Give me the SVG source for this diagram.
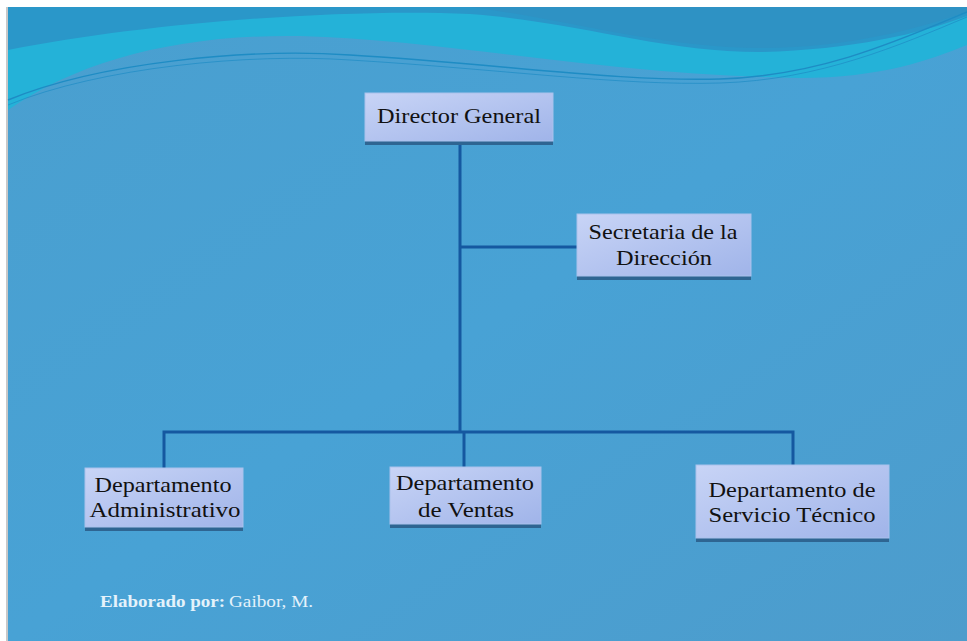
<svg xmlns="http://www.w3.org/2000/svg" width="967" height="641" viewBox="0 0 967 641">
<defs>
<linearGradient id="bg" x1="0" y1="0" x2="1" y2="1">
<stop offset="0" stop-color="#4a9fcf"/>
<stop offset="0.5" stop-color="#48a2d5"/>
<stop offset="1" stop-color="#4d9ccc"/>
</linearGradient>
<linearGradient id="box" x1="0" y1="0" x2="1" y2="1">
<stop offset="0" stop-color="#c8d4f6"/>
<stop offset="1" stop-color="#a0b4e9"/>
</linearGradient>
</defs>
<style>
.box{fill:url(#box);stroke:#a9c2ec;stroke-width:1}
.sh{fill:#2e6592}
.t{font-family:'Liberation Serif','Times New Roman',serif;font-size:22px;fill:#111;text-anchor:middle}
.c{fill:none;stroke:#1558a0;stroke-width:3}
.f{font-family:'Liberation Serif','Times New Roman',serif;font-size:16px;fill:#e4f2fb}
.w{fill:none;stroke:#1e8cc4}
</style>
<rect x="0" y="0" width="967" height="641" fill="#ffffff"/>
<rect x="6" y="7" width="2" height="634" fill="#c8c8c8"/>
<rect x="8" y="7" width="959" height="634" fill="url(#bg)"/>
<path d="M8,7 H967 V45 C930,60 880,78 800,78 C600,75 450,40 300,36 C180,34 80,60 8,110 Z" fill="#24b2d8"/>
<path d="M8,7 H967 V16 C920,34 850,50 760,52 C660,52 580,22 470,14 C350,8 150,22 8,50 Z" fill="#2a97c9"/>
<path d="M470,7 C560,18 660,48 760,48 C850,48 920,28 967,12 V7 Z" fill="#2e92c4"/>
<path class="w" stroke-width="1.4" d="M8,100 C100,62 250,48 350,55 C500,64 620,82 720,79 C820,76 900,40 967,12"/>
<path class="w" stroke-width="1" opacity="0.7" d="M8,105 C100,67 250,53 350,60 C500,69 620,86 720,83 C820,80 900,45 967,17"/>
<g id="connectors">
<path class="c" d="M460,145 V432"/>
<path class="c" d="M460,247 H577"/>
<path class="c" d="M164,468 V432 H793 V465"/>
<path class="c" d="M464,432 V467"/>
</g>
<g id="director">
<rect class="sh" x="365" y="139" width="188" height="6"/>
<rect class="box" x="365" y="93" width="188" height="48"/>
<text class="t" x="459" y="123" textLength="164" lengthAdjust="spacingAndGlyphs">Director General</text>
</g>
<g id="secretaria">
<rect class="sh" x="577" y="274" width="174" height="6"/>
<rect class="box" x="577" y="214" width="174" height="62"/>
<text class="t" x="663" y="239" textLength="149" lengthAdjust="spacingAndGlyphs">Secretaria de la</text>
<text class="t" x="664" y="265" textLength="96" lengthAdjust="spacingAndGlyphs">Dirección</text>
</g>
<g id="administrativo">
<rect class="sh" x="85" y="525" width="158" height="6"/>
<rect class="box" x="85" y="468" width="158" height="59"/>
<text class="t" x="163" y="492" textLength="137" lengthAdjust="spacingAndGlyphs">Departamento</text>
<text class="t" x="165" y="517" textLength="151" lengthAdjust="spacingAndGlyphs">Administrativo</text>
</g>
<g id="ventas">
<rect class="sh" x="390" y="522" width="151" height="6"/>
<rect class="box" x="390" y="467" width="151" height="57"/>
<text class="t" x="465" y="490" textLength="138" lengthAdjust="spacingAndGlyphs">Departamento</text>
<text class="t" x="466" y="517" textLength="96" lengthAdjust="spacingAndGlyphs">de Ventas</text>
</g>
<g id="servicio">
<rect class="sh" x="696" y="536" width="193" height="6"/>
<rect class="box" x="696" y="465" width="193" height="73"/>
<text class="t" x="792" y="497" textLength="167" lengthAdjust="spacingAndGlyphs">Departamento de</text>
<text class="t" x="792" y="522" textLength="167" lengthAdjust="spacingAndGlyphs">Servicio Técnico</text>
</g>
<g id="footer">
<text class="f" x="100" y="607" font-weight="bold" textLength="125" lengthAdjust="spacingAndGlyphs">Elaborado por:</text>
<text class="f" x="229" y="607" textLength="84" lengthAdjust="spacingAndGlyphs">Gaibor, M.</text>
</g>
</svg>
